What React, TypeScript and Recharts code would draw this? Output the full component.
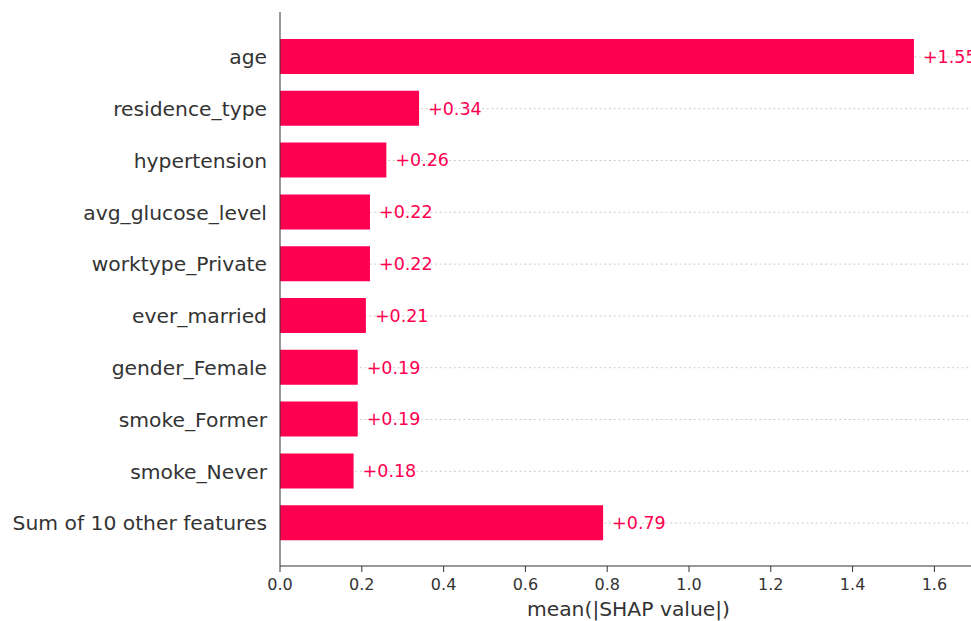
import React from 'react';
import { BarChart, Bar, XAxis, YAxis, CartesianGrid, LabelList, Label } from 'recharts';

// Feature names, top to bottom
const features = [
  'age',
  'residence_type',
  'hypertension',
  'avg_glucose_level',
  'worktype_Private',
  'ever_married',
  'gender_Female',
  'smoke_Former',
  'smoke_Never',
  'Sum of 10 other features',
];

// mean(|SHAP value|) per feature
const meanAbsShap = [1.55, 0.34, 0.26, 0.22, 0.22, 0.21, 0.19, 0.19, 0.18, 0.79];

// x-axis ticks
const xTicks = [0, 0.2, 0.4, 0.6, 0.8, 1.0, 1.2, 1.4, 1.6];

const data = features.map((name, i) => ({ name, value: meanAbsShap[i] }));

const RED = '#ff0051';
const AXIS = '#333333';

export default function App() {
  return (
    <div style={{ position: 'absolute', left: 0, top: 0, fontFamily: '"DejaVu Sans", sans-serif', background: '#fff' }}>
      <BarChart
        width={971}
        height={621}
        data={data}
        layout="vertical"
        margin={{ top: 12, right: 0, bottom: 0, left: 0 }}
      >
        {/* dotted guide line through the middle of every row */}
        <CartesianGrid
          horizontal={true}
          vertical={false}
          syncWithTicks
          stroke="#cccccc"
          strokeDasharray="2 2.7"
        />
        <XAxis
          type="number"
          domain={[0, 1.6895]}
          ticks={xTicks}
          interval={0}
          allowDataOverflow
          tickFormatter={(v: number) => v.toFixed(1)}
          height={55}
          tickSize={6}
          tickMargin={7}
          stroke={AXIS}
          axisLine={{ stroke: AXIS }}
          tickLine={{ stroke: AXIS }}
          tick={{ fontSize: 16, fill: AXIS }}
        >
          <Label
            value="mean(|SHAP value|)"
            position="insideBottom"
            offset={5}
            dx={3}
            style={{ fontSize: 20.3, fill: AXIS }}
          />
        </XAxis>
        <YAxis
          type="category"
          dataKey="name"
          width={280}
          interval={0}
          tickLine={false}
          tickSize={0}
          tickMargin={13}
          padding={{ top: 19, bottom: 17 }}
          axisLine={{ stroke: AXIS }}
          tick={{ fontSize: 20.3, fill: AXIS }}
        />
        <Bar dataKey="value" fill={RED} barSize={35} isAnimationActive={false}>
          <LabelList
            dataKey="value"
            position="right"
            offset={9}
            formatter={(v: number) => '+' + Number(v).toFixed(2)}
            style={{ fill: RED, fontSize: 17.5 }}
          />
        </Bar>
      </BarChart>
    </div>
  );
}
